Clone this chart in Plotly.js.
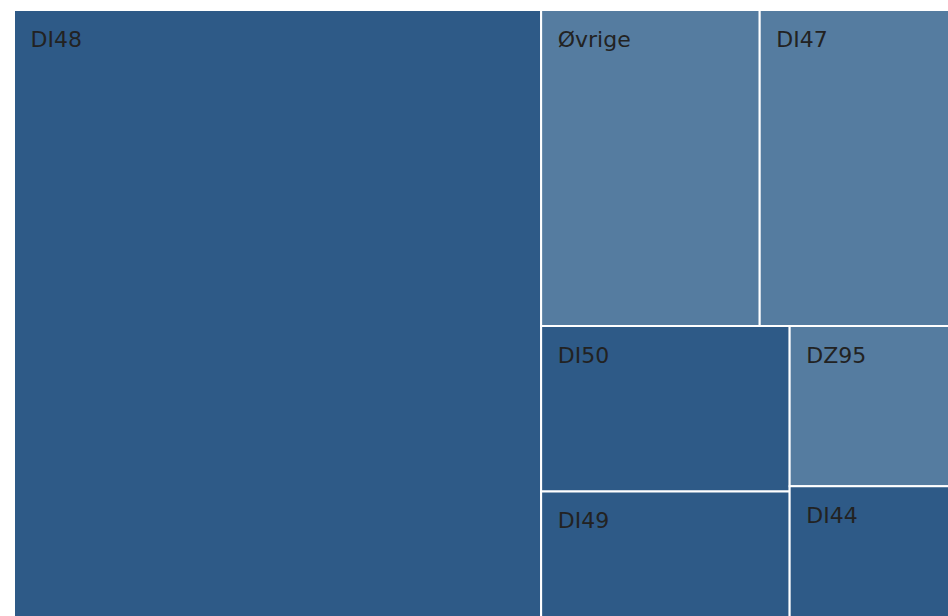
<!DOCTYPE html>
<html>
<head>
<meta charset="utf-8">
<script src="https://cdn.plot.ly/plotly-3.0.1.min.js"></script>
<style>
  html, body { margin: 0; padding: 0; overflow: hidden; background: #fff; }
  #chart { width: 949px; height: 617px; }
</style>
</head>
<body>
<div id="chart"></div>
<script>
// Diagnosis codes and their (estimated) counts
const labels = ["DI48", "Øvrige", "DI47", "DI50", "DI49", "DZ95", "DI44"];
const parents = ["", "", "", "", "", "", ""];
const values = [3182, 687, 595, 409, 310, 254, 207];
const colors = ["#2E5A87", "#557CA0", "#557CA0", "#2E5A87", "#2E5A87", "#557CA0", "#2E5A87"];

const trace = {
  type: "treemap",
  labels: labels,
  parents: parents,
  values: values,
  sort: true,
  textinfo: "label",
  texttemplate: "<span style='font-size:5px'>\u00a0</span><br>\u00a0\u2009\u200a%{label}",
  textposition: "top left",
  textfont: { family: "DejaVu Sans, Verdana, sans-serif", size: 22, color: "#222222" },
  marker: { colors: colors, line: { color: "#ffffff", width: 2 }, pad: { t: 0, l: 0, r: 0, b: 0 } },
  pathbar: { visible: false },
  tiling: { squarifyratio: 1, pad: 0 },
  hoverinfo: "label+value"
};

const layout = {
  width: 949,
  height: 617,
  margin: { l: 14, t: 10, r: 0, b: 0 },
  paper_bgcolor: "#ffffff",
  showlegend: false
};

Plotly.newPlot("chart", [trace], layout, { displayModeBar: false });
</script>
</body>
</html>
